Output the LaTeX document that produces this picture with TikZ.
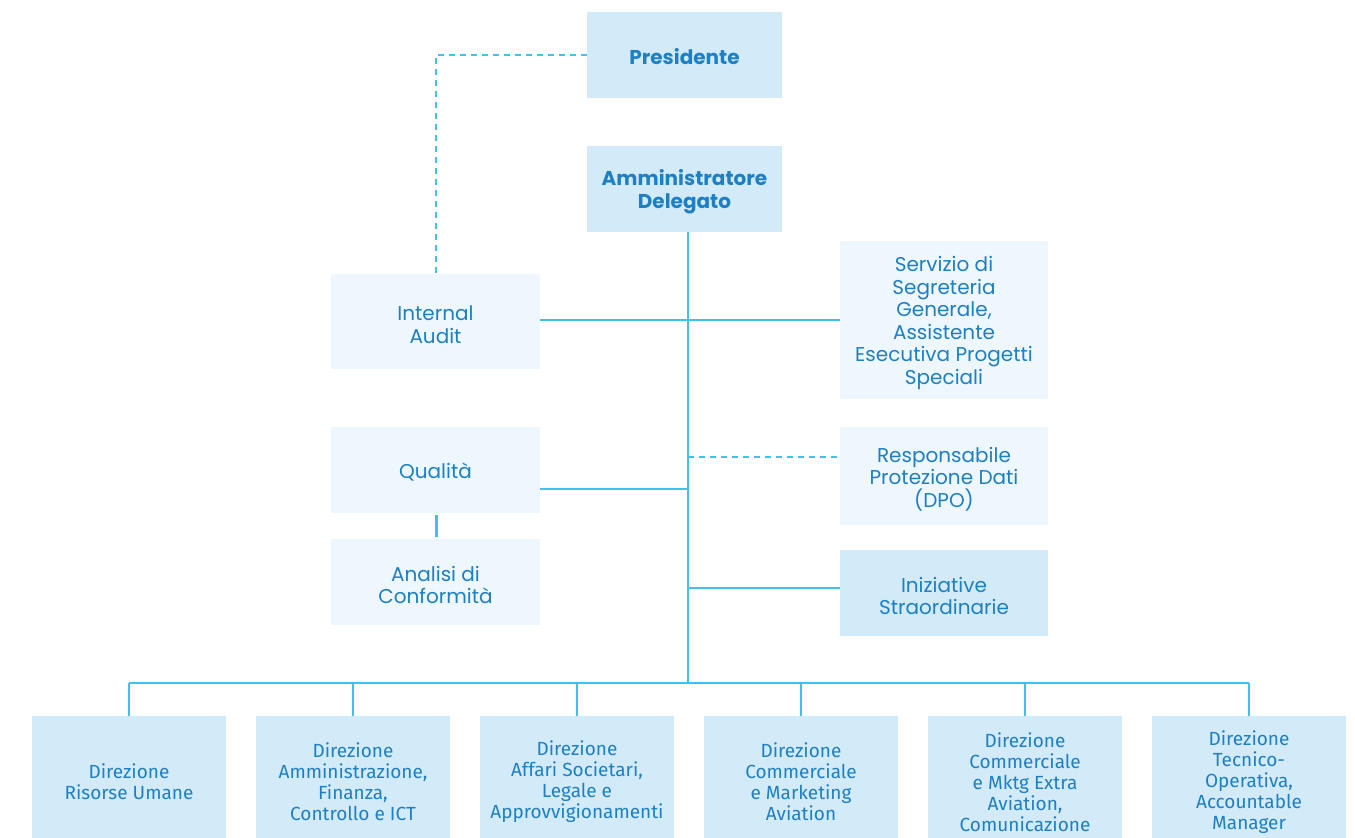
\documentclass[tikz,border=0pt]{standalone}
\usepackage{fontspec}
\setmainfont{Poppins}
\newfontfamily\bottomfont{Fira Sans}
\definecolor{txt}{HTML}{1D7FC4}
\definecolor{linec}{HTML}{3EC3EF}
\definecolor{boxdark}{HTML}{D3EAF9}
\definecolor{boxlight}{HTML}{EEF7FD}
\begin{document}
\begin{tikzpicture}[x=1pt,y=-1pt,
  box/.style={inner sep=0pt},
  dark/.style={box, fill=boxdark},
  light/.style={box, fill=boxlight},
  label/.style={inner sep=0pt, align=center, text=txt, font=\fontsize{20}{22.6}\selectfont},
  boldf/.style={label, font=\bfseries\fontsize{20}{22.6}\selectfont},
  bottombox/.style={dark, minimum width=194pt, minimum height=122pt},
  btxt/.style={label, font=\bottomfont\fontsize{19}{21}\selectfont},
  conn/.style={draw=linec, line width=1.5pt},
  dconn/.style={conn, dash pattern=on 6pt off 5pt}]
\useasboundingbox (0,0) rectangle (1355,838);
% top
\node[dark, minimum width=195pt, minimum height=86pt] (pres) at (684.5,55) {};
\node[dark, minimum width=195pt, minimum height=86pt] (ad) at (684.5,189) {};
% staff
\node[light, minimum width=209pt, minimum height=95pt] (audit) at (435.5,321.5) {};
\node[light, minimum width=208pt, minimum height=158pt] (serv) at (944,320) {};
\node[light, minimum width=209pt, minimum height=86pt] (qual) at (435.5,470) {};
\node[light, minimum width=209pt, minimum height=86pt] (anal) at (435.5,582) {};
\node[light, minimum width=208pt, minimum height=98pt] (dpo) at (944,476) {};
\node[dark, minimum width=208pt, minimum height=86pt] (iniz) at (944,593) {};
% texts
\node[boldf] (pres-t) at ([yshift=-2pt]pres.center) {Presidente};
\node[boldf] (ad-t) at ([yshift=-3pt]ad.center) {Amministratore\\Delegato};
\node[label] (audit-t) at ([yshift=-3pt]audit.center) {Internal\\Audit};
\node[label] (serv-t) at ([yshift=-3pt]serv.center) {Servizio di\\Segreteria\\Generale,\\Assistente\\Esecutiva Progetti\\Speciali};
\node[label] (qual-t) at ([yshift=-2pt]qual.center) {Qualità};
\node[label] (anal-t) at ([yshift=-3pt]anal.center) {Analisi di\\Conformità};
\node[label] (dpo-t) at ([yshift=-3pt]dpo.center) {Responsabile\\Protezione Dati\\(DPO)};
\node[label] (iniz-t) at ([yshift=-3pt]iniz.center) {Iniziative\\Straordinarie};
% bottom
\node[bottombox] (d1) at (129,777) {};
\node[bottombox] (d2) at (353,777) {};
\node[bottombox] (d3) at (577,777) {};
\node[bottombox] (d4) at (801,777) {};
\node[bottombox] (d5) at (1025,777) {};
\node[bottombox] (d6) at (1249,777) {};
\node[btxt] (t1) at (129,782) {Direzione\\Risorse Umane};
\node[btxt] (t2) at (353,782) {Direzione\\Amministrazione,\\Finanza,\\Controllo e ICT};
\node[btxt] (t3) at (577,782) {Direzione\\Affari Societari,\\Legale e\\Approvvigionamenti};
\node[btxt] (t4) at (801,782) {Direzione\\Commerciale\\e Marketing\\Aviation};
\node[btxt] (t5) at (1025,782) {Direzione\\Commerciale\\e Mktg Extra\\Aviation,\\Comunicazione};
\node[btxt] (t6) at (1249,782) {Direzione\\Tecnico-\\Operativa,\\Accountable\\Manager};
% connectors
\coordinate (bus) at (688,683);
\coordinate (aj) at (688,320);
\coordinate (qj) at (688,489);
\coordinate (dj) at (688,457);
\coordinate (ij) at (688,588);
\coordinate (pj) at (436,55);
\draw[conn] (ad.south -| bus) -- (bus);
\draw[conn] (d1.north |- bus) -- (d6.north |- bus);
\foreach \i in {1,...,6} {\draw[conn] (d\i.north |- bus) -- (d\i.north);}
\draw[conn] (audit.east |- aj) -- (aj -| serv.west);
\draw[conn] (qual.east |- qj) -- (qj);
\draw[dconn] (dj) -- (dj -| dpo.west);
\draw[conn] (ij) -- (ij -| iniz.west);
\draw[conn, line width=3pt] ([yshift=-2pt]qual.south -| pj) -- ([yshift=2pt]anal.north -| pj);
\draw[dconn] (pres.west) -- (pj) -- (pj |- audit.north);
\end{tikzpicture}
\end{document}
